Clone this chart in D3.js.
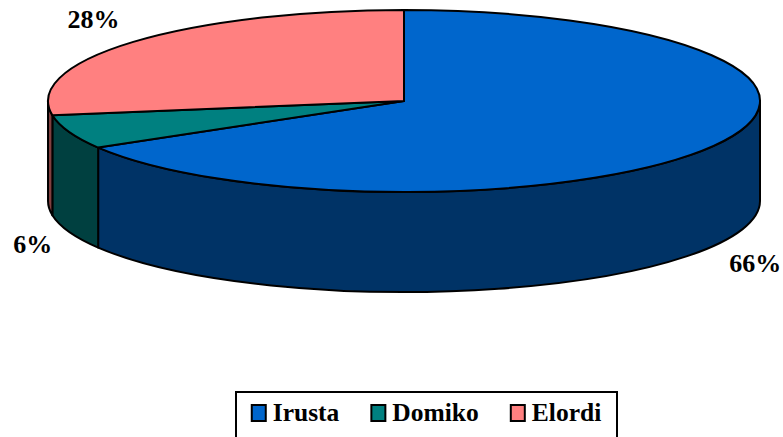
<!DOCTYPE html>
<html>
<head>
<meta charset="utf-8">
<script src="https://cdn.jsdelivr.net/npm/d3@7"></script>
<style>
  body { margin: 0; background: #fff; }
  svg { display: block; }
</style>
</head>
<body>
<svg id="chart" width="783" height="437"></svg>
<script>
// data
const names = ["Irusta", "Domiko", "Elordi"];
const values = [66.45, 6.05, 27.5];
const labels = ["66%", "6%", "28%"];
const topColors = ["#0066cc", "#008080", "#ff8080"];
const sideColors = ["#003366", "#004040", "#804040"];

const font = '"Liberation Serif"';
const cx = 404, cy = 101, rx = 356, ry = 91, depth = 100;

const svg = d3.select("#chart");

const pie = d3.pie().sort(null).value(d => d.value);
const arcs = pie(names.map((n, i) => ({ name: n, value: values[i], i: i })));

// point on the ellipse, angle clockwise from 12 o'clock
function pt(a, dy) {
  return [cx + rx * Math.sin(a), cy - ry * Math.cos(a) + (dy || 0)];
}

function topPath(a0, a1) {
  const p0 = pt(a0), p1 = pt(a1);
  const large = (a1 - a0) > Math.PI ? 1 : 0;
  return `M${cx},${cy}L${p0}A${rx},${ry} 0 ${large} 1 ${p1}Z`;
}

// only the front half of the wall is visible
function sidePath(a0, a1) {
  const s = Math.max(a0, Math.PI / 2), e = Math.min(a1, 3 * Math.PI / 2);
  if (e <= s) return null;
  const p0 = pt(s), p1 = pt(e), q1 = pt(e, depth), q0 = pt(s, depth);
  return `M${p0}A${rx},${ry} 0 0 1 ${p1}L${q1}A${rx},${ry} 0 0 0 ${q0}Z`;
}

// walls
svg.append("g").selectAll("path")
  .data(arcs.filter(d => sidePath(d.startAngle, d.endAngle)))
  .join("path")
  .attr("d", d => sidePath(d.startAngle, d.endAngle))
  .attr("fill", d => sideColors[d.data.i])
  .attr("stroke", "#000")
  .attr("stroke-width", 2)
  .attr("stroke-linejoin", "round");

// top faces
svg.append("g").selectAll("path")
  .data(arcs)
  .join("path")
  .attr("d", d => topPath(d.startAngle, d.endAngle))
  .attr("fill", d => topColors[d.data.i])
  .attr("stroke", "#000")
  .attr("stroke-width", 2)
  .attr("stroke-linejoin", "round");

// percent labels, outside end
const lrx = 374, lry = 126;
const mid = d => (d.startAngle + d.endAngle) / 2;
svg.append("g").selectAll("text")
  .data(arcs)
  .join("text")
  .attr("x", d => cx + lrx * Math.sin(mid(d)))
  .attr("y", d => {
    const a = mid(d);
    return cy - lry * Math.cos(a) + (Math.cos(a) < 0 ? depth : 0);
  })
  .attr("dy", "0.34em")
  .attr("text-anchor", d => Math.sin(mid(d)) < 0 ? "end" : "start")
  .style("font-family", font)
  .style("font-weight", "bold")
  .style("font-size", "26px")
  .text(d => labels[d.data.i]);

// legend
const legend = svg.append("g");
const box = legend.append("rect")
  .attr("fill", "#fff")
  .attr("stroke", "#000")
  .attr("stroke-width", 2);

const items = legend.selectAll("g.item")
  .data(names)
  .join("g")
  .attr("class", "item");

items.append("rect")
  .attr("width", 14)
  .attr("height", 16)
  .attr("y", -16)
  .attr("fill", (d, i) => topColors[i])
  .attr("stroke", "#000")
  .attr("stroke-width", 2);

items.append("text")
  .attr("x", 21)
  .attr("y", 0)
  .style("font-family", font)
  .style("font-weight", "bold")
  .style("font-size", "25.5px")
  .text(d => d);

let off = 0;
const offsets = [];
items.each(function () {
  offsets.push(off);
  const w = d3.select(this).select("text").node().getComputedTextLength();
  off += 21 + w + 32;
});
const total = off - 32;
const legendCx = 426.5, baseY = 421;
const startX = legendCx - total / 2;
items.attr("transform", (d, i) => `translate(${startX + offsets[i]},${baseY})`);
box.attr("x", 236).attr("y", 392).attr("width", 381).attr("height", 60);
</script>
</body>
</html>
